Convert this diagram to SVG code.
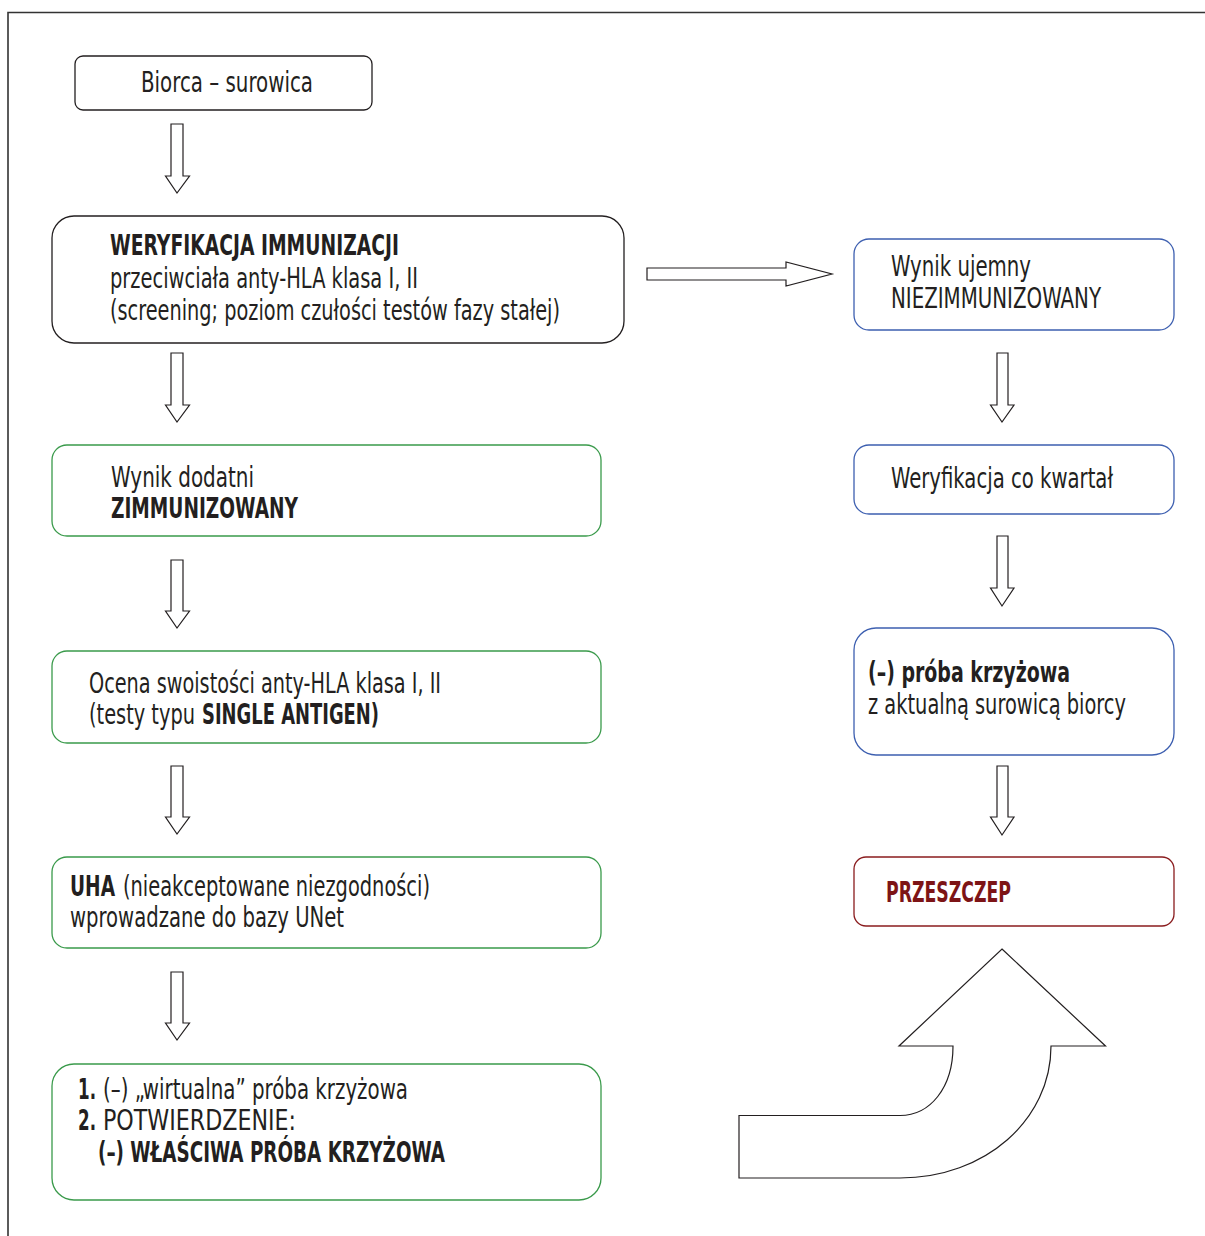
<svg xmlns="http://www.w3.org/2000/svg" width="1205" height="1236" viewBox="0 0 1205 1236">
<style>
text{font-family:"Liberation Sans Narrow","DejaVu Sans Condensed","Liberation Sans",sans-serif;font-size:28px;fill:#231f20;font-stretch:condensed}
.b{font-weight:bold}
.box{fill:#fff;stroke-width:1.3}
.k{stroke:#231f20}
.g{stroke:#3a9a4b}
.u{stroke:#3d5fb0}
.r{stroke:#8a1c1e}
.arr{fill:#fff;stroke:#231f20;stroke-width:1.2;stroke-linejoin:miter}
</style>
<rect width="1205" height="1236" fill="#fff"/>
<path d="M8 1236 V12.5 H1205" fill="none" stroke="#333" stroke-width="1.6"/>

<g id="connectors">
<path class="arr" d="M171 124 H183 V176 H189.5 L177 193 L165.5 176 H171 Z"/>
<path class="arr" d="M171 353 H183 V405 H189.5 L177 422 L165.5 405 H171 Z"/>
<path class="arr" d="M171 560 H183 V611 H189.5 L177 628 L165.5 611 H171 Z"/>
<path class="arr" d="M171 766 H183 V817 H189.5 L177 834 L165.5 817 H171 Z"/>
<path class="arr" d="M171 972 H183 V1023 H189.5 L177 1040 L165.5 1023 H171 Z"/>
<path class="arr" d="M647 268 V280 H786 V286 L832 274 L786 262 V268 Z"/>
<path class="arr" d="M997 353 H1008 V405 H1014 L1002 422 L990.5 405 H997 Z"/>
<path class="arr" d="M997 536 H1008 V588 H1014 L1002 606 L990.5 588 H997 Z"/>
<path class="arr" d="M997 766 H1008 V817 H1014 L1002 835 L990.5 817 H997 Z"/>
<path class="arr" d="M1002 949 L1105.5 1046 H1051 C1051 1120 985 1178 900 1178 H739 V1115.5 H900 C930 1115.5 953 1088 953 1046 H899 Z"/>
</g>

<g id="n-biorca">
<rect class="box k" x="75" y="56" width="297" height="54" rx="8"/>
<text x="141" y="92" textLength="172" lengthAdjust="spacingAndGlyphs">Biorca – surowica</text>
</g>

<g id="n-weryfikacja">
<rect class="box k" x="52" y="216" width="572" height="127" rx="22"/>
<text class="b" x="110" y="255" textLength="289" lengthAdjust="spacingAndGlyphs">WERYFIKACJA IMMUNIZACJI</text>
<text x="110" y="288" textLength="308" lengthAdjust="spacingAndGlyphs">przeciwciała anty-HLA klasa I, II</text>
<text x="110" y="320" textLength="450" lengthAdjust="spacingAndGlyphs">(screening; poziom czułości testów fazy stałej)</text>
</g>

<g id="n-ujemny">
<rect class="box u" x="854" y="239" width="320" height="91" rx="15"/>
<text x="891" y="276" textLength="140" lengthAdjust="spacingAndGlyphs">Wynik ujemny</text>
<text x="891" y="308" textLength="210" lengthAdjust="spacingAndGlyphs">NIEZIMMUNIZOWANY</text>
</g>

<g id="n-dodatni">
<rect class="box g" x="52" y="445" width="549" height="91" rx="15"/>
<text x="111" y="487" textLength="143" lengthAdjust="spacingAndGlyphs">Wynik dodatni</text>
<text class="b" x="111" y="518" textLength="187" lengthAdjust="spacingAndGlyphs">ZIMMUNIZOWANY</text>
</g>

<g id="n-ocena">
<rect class="box g" x="52" y="651" width="549" height="92" rx="15"/>
<text x="89" y="693" textLength="352" lengthAdjust="spacingAndGlyphs">Ocena swoistości anty-HLA klasa I, II</text>
<text x="89" y="724" textLength="106" lengthAdjust="spacingAndGlyphs">(testy typu</text>
<text class="b" x="202" y="724" textLength="177" lengthAdjust="spacingAndGlyphs">SINGLE ANTIGEN)</text>
</g>

<g id="n-uha">
<rect class="box g" x="52" y="857" width="549" height="91" rx="15"/>
<text class="b" x="70" y="896" textLength="45" lengthAdjust="spacingAndGlyphs">UHA</text>
<text x="123" y="896" textLength="307" lengthAdjust="spacingAndGlyphs">(nieakceptowane niezgodności)</text>
<text x="70" y="927" textLength="274" lengthAdjust="spacingAndGlyphs">wprowadzane do bazy UNet</text>
</g>

<g id="n-proba-wirtualna">
<rect class="box g" x="52" y="1064" width="549" height="136" rx="22"/>
<text class="b" x="78" y="1099" textLength="18" lengthAdjust="spacingAndGlyphs">1.</text>
<text x="103" y="1099" textLength="305" lengthAdjust="spacingAndGlyphs">(–) „wirtualna” próba krzyżowa</text>
<text class="b" x="78" y="1130" textLength="18" lengthAdjust="spacingAndGlyphs">2.</text>
<text x="103" y="1130" textLength="193" lengthAdjust="spacingAndGlyphs">POTWIERDZENIE:</text>
<text class="b" x="98" y="1162" textLength="347" lengthAdjust="spacingAndGlyphs">(–) WŁAŚCIWA PRÓBA KRZYŻOWA</text>
</g>

<g id="n-kwartal">
<rect class="box u" x="854" y="445" width="320" height="69" rx="15"/>
<text x="891" y="488" textLength="222" lengthAdjust="spacingAndGlyphs">Weryfikacja co kwartał</text>
</g>

<g id="n-proba">
<rect class="box u" x="854" y="628" width="320" height="127" rx="22"/>
<text class="b" x="868" y="682" textLength="202" lengthAdjust="spacingAndGlyphs">(–) próba krzyżowa</text>
<text x="868" y="714" textLength="258" lengthAdjust="spacingAndGlyphs">z aktualną surowicą biorcy</text>
</g>

<g id="n-przeszczep">
<rect class="box r" x="854" y="857" width="320" height="69" rx="12"/>
<text class="b" x="886" y="902" textLength="125" lengthAdjust="spacingAndGlyphs" style="fill:#7d1416">PRZESZCZEP</text>
</g>
</svg>
